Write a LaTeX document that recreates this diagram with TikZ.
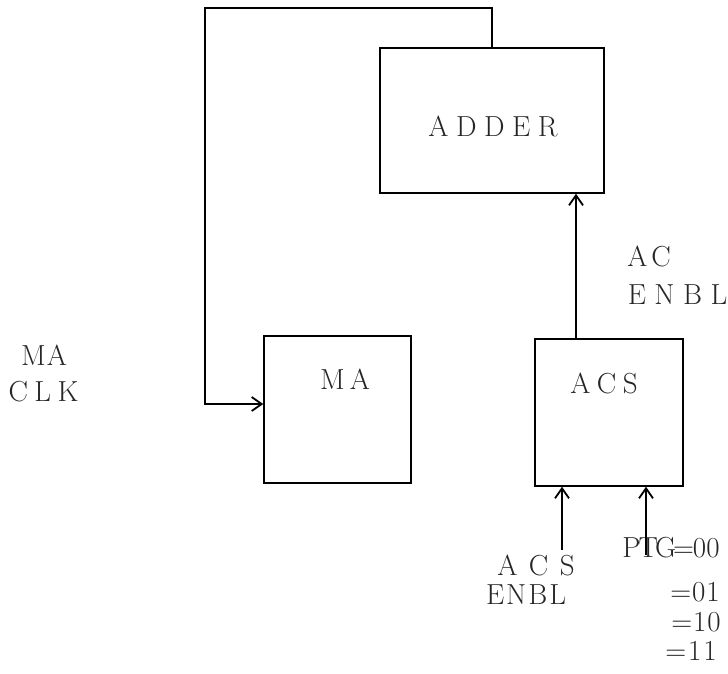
\documentclass[tikz,border=0pt]{standalone}
\usetikzlibrary{arrows.meta}
\tikzset{
  box/.style={draw, line width=1.5pt, inner sep=0pt},
  lab/.style={inner sep=0pt, font=\fontsize{29}{34}\selectfont, text=black!85},
  arr/.style={line width=1.5pt, -{Straight Barb[length=10pt,width=14pt,line width=1.8pt]}},
  wire/.style={line width=1.5pt}
}
\begin{document}
\begin{tikzpicture}[x=1pt,y=1pt]
\useasboundingbox (0,0) rectangle (728,-673);
% boxes
\node[box, minimum width=224pt, minimum height=145pt] (adder) at (492,-120.5) {};
\node[box, minimum width=147pt, minimum height=147pt] (ma) at (337.5,-409.5) {};
\node[box, minimum width=148pt, minimum height=147pt] (acs) at (609,-412.5) {};
% box labels
\node[lab] (adderlab) at (493,-126) {A\kern7.5pt D\kern7.5pt D\kern7.5pt E\kern7.5pt R};
\node[lab] (malab) at (345,-379) {M\kern5pt A};
\node[lab] (acslab) at (604,-383) {A\kern6.5pt C\kern6.5pt S};
% side labels
\node[lab] (maclka) at (44,-355) {M\kern1pt A};
\node[lab] (maclkb) at (43.5,-391.5) {C\kern6.5pt L\kern6.5pt K};
\node[lab] (acena) at (649,-256) {A\kern4pt C};
\node[lab] (acenb) at (677.5,-295) {E\kern8.5pt N\kern8.5pt B\kern8.5pt L};
\node[lab] (acsena) at (536,-565) {A\kern11.5pt C\kern11.5pt S};
\node[lab] (acsenb) at (526,-595) {E\kern2pt N\kern2pt B\kern2pt L};
\node[lab] (ptga) at (671,-548) {P\kern-2pt T\kern-3pt G\kern-3pt =\kern-1pt 0\kern0pt 0};
\node[lab] (ptgb) at (695,-592.5) {=\kern1pt 0\kern1pt 1};
\node[lab] (ptgc) at (696,-622) {=\kern1pt 1\kern1pt 0};
\node[lab] (ptgd) at (691,-651) {=\kern2pt 1\kern2pt 1};
% coordinates for connectors
\coordinate (fbr) at (492,-8);
\coordinate (fbl) at (205,-8);
\coordinate (upx) at (576,0);
\coordinate (acsin) at (562,-550);
\coordinate (ptgin) at (646,-555);
% connectors
\draw[arr] (fbr |- adder.north) -- (fbr) -- (fbl) |- ([yshift=5.5pt]ma.west);
\draw[arr] (upx |- acs.north) -- (upx |- adder.south);
\draw[arr] (acsin) -- (acsin |- acs.south);
\draw[arr] (ptgin) -- (ptgin |- acs.south);
\end{tikzpicture}
\end{document}
